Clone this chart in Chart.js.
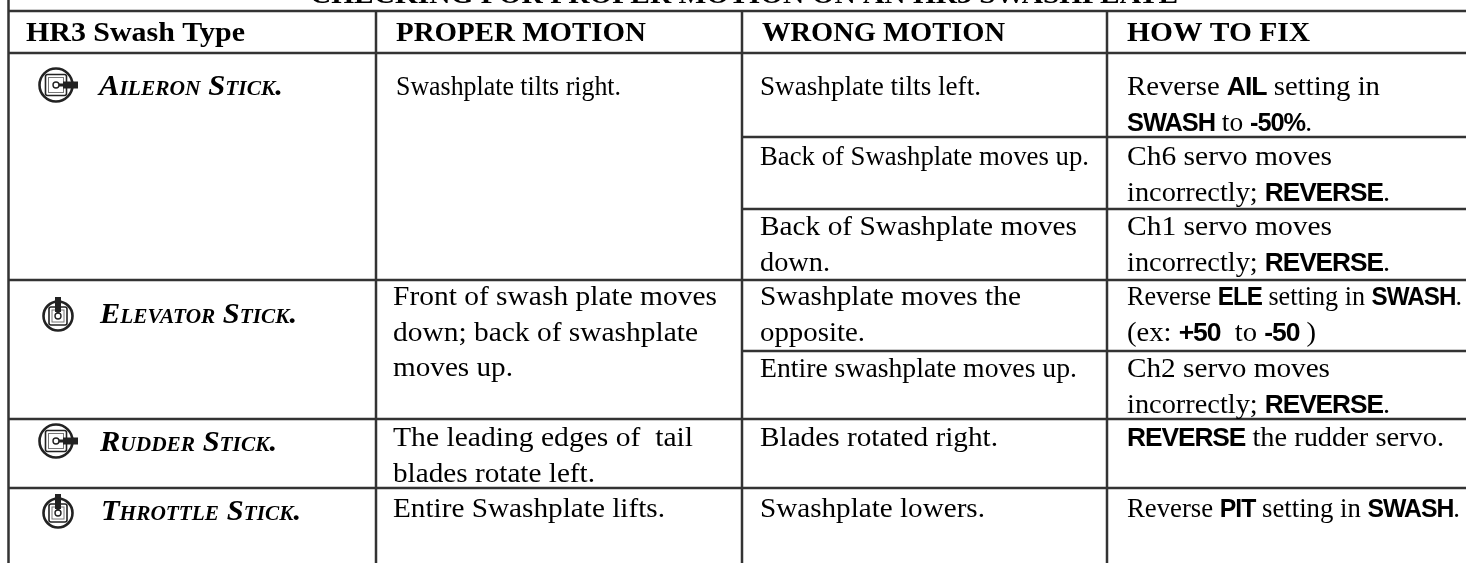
<!DOCTYPE html>
<html>
<head>
<meta charset="utf-8">
<title>HR3 swash check</title>
<script src="https://cdn.jsdelivr.net/npm/chart.js@4"></script>
<style>
  html, body { margin: 0; padding: 0; background: #fff; overflow: hidden; }
  canvas { display: block; }
</style>
</head>
<body>
<canvas id="swashChart" width="1466" height="563"></canvas>
<script>
const titleText = 'CHECKING FOR PROPER MOTION ON AN HR3 SWASHPLATE';
const headerLabels = ['HR3 Swash Type', 'PROPER MOTION', 'WRONG MOTION', 'HOW TO FIX'];
const stickNames = ['Aileron Stick.', 'Elevator Stick.', 'Rudder Stick.', 'Throttle Stick.'];
const stickIcons = ['side', 'up', 'side', 'up'];

// *text* = bold sans run
const properMotion = [
  ['Swashplate tilts right.'],
  ['Front of swash plate moves', 'down; back of swashplate', 'moves up.'],
  ['The leading edges of  tail', 'blades rotate left.'],
  ['Entire Swashplate lifts.']
];
const wrongMotion = [
  ['Swashplate tilts left.'],
  ['Back of Swashplate moves up.'],
  ['Back of Swashplate moves', 'down.'],
  ['Swashplate moves the', 'opposite.'],
  ['Entire swashplate moves up.'],
  ['Blades rotated right.'],
  ['Swashplate lowers.']
];
const howToFix = [
  ['Reverse *AIL* setting in', '*SWASH* to *-50%*.'],
  ['Ch6 servo moves', 'incorrectly; *REVERSE*.'],
  ['Ch1 servo moves', 'incorrectly; *REVERSE*.'],
  ['Reverse *ELE* setting in *SWASH*.', '(ex: *+50*  to *-50* )'],
  ['Ch2 servo moves', 'incorrectly; *REVERSE*.'],
  ['*REVERSE* the rudder servo.'],
  ['Reverse *PIT* setting in *SWASH*.']
];

// table rules
const columnEdges = [8.5, 376, 742, 1107];
const leftRowEdges = [11, 53, 280, 419, 488];
const rightRowEdges = [137, 209, 280, 351, 419, 488];
const iconX = [56, 58, 56, 58];
const iconY = [85, 316, 441, 513];

// where each text block starts and where its lines end
const titleSpan = [310, 1178];
const headerX = [26, 396, 762, 1127];
const headerEnd = [245, 646, 1005, 1310];
const stickX = [99, 100, 100, 101];
const stickEnd = [283, 297, 277, 301];
const stickBase = [95, 323, 451, 520];
const properX = [396, 393, 393, 393];
const properBase = [95, 305, 446, 517];
const properEnd = [[621], [717, 698, 513], [693, 595], [665]];
const wrongX = 760;
const wrongBase = [95, 165, 235, 305, 377, 446, 517];
const wrongEnd = [[981], [1089], [1077, 830], [1021, 865], [1077], [998], [985]];
const fixX = 1127;
const fixBase = [95, 165, 235, 305, 377, 446, 517];
const fixEnd = [[1380, 1312], [1332, 1390], [1332, 1390], [1462, 1316], [1330, 1390], [1444], [1460]];
const lineStep = 35.5;

function ruleData() {
  const pts = [];
  const seg = (x1, y1, x2, y2) => {
    pts.push({ x: x1, y: y1 }, { x: x2, y: y2 }, { x: null, y: null });
  };
  seg(columnEdges[0], 0, columnEdges[0], 563);
  columnEdges.slice(1).forEach(x => seg(x, leftRowEdges[0], x, 563));
  leftRowEdges.forEach(y => seg(columnEdges[0], y, 1466, y));
  rightRowEdges.forEach(y => seg(columnEdges[2], y, 1466, y));
  return pts;
}

function makeIcon(kind) {
  const c = document.createElement('canvas');
  c.width = 56;
  c.height = 56;
  const g = c.getContext('2d');
  g.translate(28, 28);
  g.strokeStyle = '#222';
  g.fillStyle = '#222';
  const r = kind === 'side' ? 16.5 : 14.5;
  const s = kind === 'side' ? 10.5 : 9;
  g.lineWidth = 2.6;
  g.beginPath();
  g.arc(0, 0, r, 0, Math.PI * 2);
  g.stroke();
  g.lineWidth = 1.6;
  g.beginPath();
  g.roundRect(-s, -s, s * 2, s * 2, 2);
  g.stroke();
  g.strokeStyle = '#777';
  g.lineWidth = 1;
  g.strokeRect(-s + 3, -s + 3, s * 2 - 6, s * 2 - 6);
  g.fillStyle = '#fff';
  if (kind === 'side') g.fillRect(s - 4, -3, 10, 6);
  else g.fillRect(-3, -s - 2, 6, 10);
  g.fillStyle = '#222';
  g.strokeStyle = '#222';
  g.lineWidth = 1.4;
  g.beginPath();
  g.arc(0, 0, 3, 0, Math.PI * 2);
  g.stroke();
  if (kind === 'side') {
    g.fillRect(3, -1.5, 6, 3);
    g.fillRect(7, -3.5, 15, 7);
  } else {
    g.fillRect(-1.5, -9, 3, 6);
    g.fillRect(-3, -19, 6, 15);
  }
  return c;
}

const serif = '"Liberation Serif"';
const fonts = {
  title: `bold 28px ${serif}`,
  head: `bold 28px ${serif}`,
  stick: `italic small-caps bold 30px ${serif}`,
  body: `27px ${serif}`,
  bold: 'bold 25px "Liberation Sans"'
};
const boldTrack = -1;

// regular and bold runs, squeezed so the line ends where it does in the picture
function drawRuns(ctx, line, x, endX, y) {
  const parts = line.split('*');
  const style = i => {
    ctx.font = i % 2 ? fonts.bold : fonts.body;
    ctx.letterSpacing = (i % 2 ? boldTrack : 0) + 'px';
  };
  let natural = 0;
  parts.forEach((part, i) => {
    style(i);
    natural += ctx.measureText(part).width;
  });
  ctx.save();
  ctx.translate(x, y);
  ctx.scale((endX - x) / natural, 1);
  let at = 0;
  parts.forEach((part, i) => {
    if (!part) return;
    style(i);
    ctx.fillText(part, at, 0);
    at += ctx.measureText(part).width;
  });
  ctx.restore();
}

function drawFit(ctx, text, font, x, endX, y) {
  ctx.font = font;
  ctx.letterSpacing = '0px';
  ctx.save();
  ctx.translate(x, y);
  ctx.scale((endX - x) / ctx.measureText(text).width, 1);
  ctx.fillText(text, 0, 0);
  ctx.restore();
}

const tableText = {
  id: 'tableText',
  afterDatasetsDraw(chart) {
    const { ctx, scales } = chart;
    const px = v => scales.x.getPixelForValue(v);
    const py = v => scales.y.getPixelForValue(v);
    const block = (lines, x, ends, y) => {
      lines.forEach((l, i) => drawRuns(ctx, l, px(x), px(ends[i]), py(y + i * lineStep)));
    };
    ctx.save();
    ctx.fillStyle = '#000';
    ctx.textBaseline = 'alphabetic';
    ctx.textAlign = 'left';
    drawFit(ctx, titleText, fonts.title, px(titleSpan[0]), px(titleSpan[1]), py(3));
    headerLabels.forEach((t, i) => drawFit(ctx, t, fonts.head, px(headerX[i]), px(headerEnd[i]), py(41)));
    stickNames.forEach((t, i) => drawFit(ctx, t, fonts.stick, px(stickX[i]), px(stickEnd[i]), py(stickBase[i])));
    properMotion.forEach((b, i) => block(b, properX[i], properEnd[i], properBase[i]));
    wrongMotion.forEach((b, i) => block(b, wrongX, wrongEnd[i], wrongBase[i]));
    howToFix.forEach((b, i) => block(b, fixX, fixEnd[i], fixBase[i]));
    ctx.restore();
  }
};

new Chart(document.getElementById('swashChart').getContext('2d'), {
  type: 'scatter',
  data: {
    datasets: [
      {
        type: 'line',
        data: ruleData(),
        borderColor: '#333',
        borderWidth: 2.5,
        pointRadius: 0,
        spanGaps: false,
        tension: 0
      },
      {
        data: iconX.map((x, i) => ({ x: x, y: iconY[i] })),
        pointStyle: stickIcons.map(makeIcon),
        pointRadius: 28
      }
    ]
  },
  options: {
    responsive: false,
    animation: false,
    layout: { padding: 0, autoPadding: false },
    plugins: { legend: { display: false }, tooltip: { enabled: false } },
    scales: {
      x: { type: 'linear', display: false, min: 0, max: 1466 },
      y: { type: 'linear', display: false, min: 0, max: 563, reverse: true }
    }
  },
  plugins: [tableText]
});
</script>
</body>
</html>
